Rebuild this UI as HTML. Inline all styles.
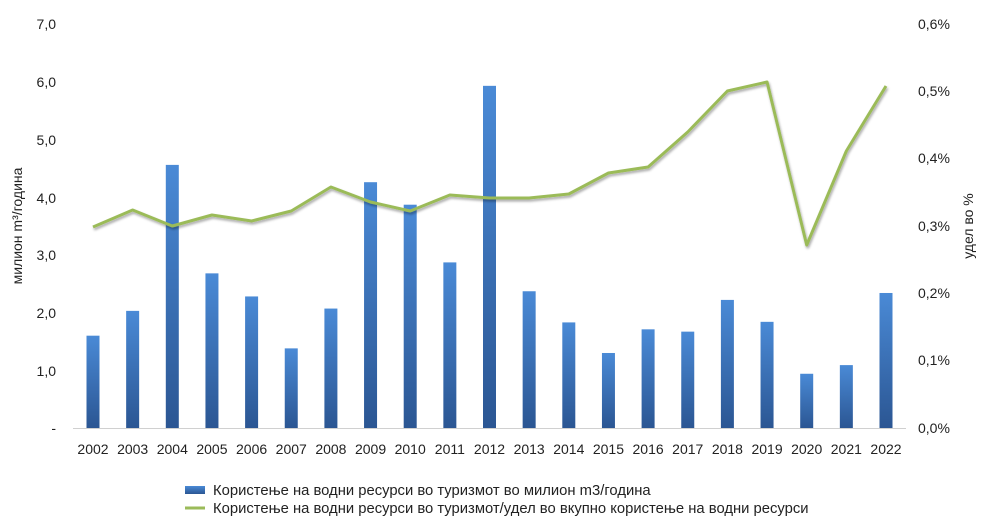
<!DOCTYPE html>
<html><head><meta charset="utf-8"><style>
body{margin:0;background:#fff;}
svg text{font-family:"Liberation Sans",sans-serif;font-size:14px;fill:#222;}
svg text.lg{font-size:14.8px;}
</style></head><body>
<svg width="990" height="525" xmlns="http://www.w3.org/2000/svg">
<defs>
<linearGradient id="g" x1="0" y1="0" x2="0" y2="1">
<stop offset="0" stop-color="#4a8ad6"/><stop offset="1" stop-color="#2b5693"/>
</linearGradient>
<filter id="sh" x="-5%" y="-5%" width="110%" height="120%"><feDropShadow dx="1" dy="2" stdDeviation="1.2" flood-color="#000" flood-opacity="0.35"/></filter>
</defs>
<line x1="73" y1="428.5" x2="906" y2="428.5" stroke="#d0d0d0"/>
<g text-anchor="end">
<text x="56" y="29">7,0</text><text x="56" y="87">6,0</text><text x="56" y="145">5,0</text><text x="56" y="203">4,0</text><text x="56" y="260">3,0</text><text x="56" y="318">2,0</text><text x="56" y="376">1,0</text><text x="56" y="433">-</text>
</g>
<g text-anchor="start">
<text x="918" y="29">0,6%</text><text x="918" y="96">0,5%</text><text x="918" y="163">0,4%</text><text x="918" y="231">0,3%</text><text x="918" y="298">0,2%</text><text x="918" y="365">0,1%</text><text x="918" y="433">0,0%</text>
</g>
<text transform="translate(22,226) rotate(-90)" text-anchor="middle">милион m³/година</text>
<text transform="translate(973,226) rotate(-90)" text-anchor="middle">удел во %</text>
<g fill="url(#g)" id="bars"></g>
<g text-anchor="middle" id="xl"></g>
<polyline id="ln" fill="none" stroke="#9bbb59" stroke-width="3" stroke-linejoin="round" filter="url(#sh)"/>
<rect x="185" y="486" width="20" height="8" fill="url(#g)"/>
<text class="lg" x="213" y="495">Користење на водни ресурси во туризмот во милион m3/година</text>
<line x1="185" y1="508" x2="205" y2="508" stroke="#9bbb59" stroke-width="3"/>
<text class="lg" x="213" y="513">Користење на водни ресурси во туризмот/удел во вкупно користење на водни ресурси</text>
</svg>
<script>
var v=[1.6,2.03,4.56,2.68,2.28,1.38,2.07,4.26,3.87,2.87,5.93,2.37,1.83,1.3,1.71,1.67,2.22,1.84,0.94,1.09,2.34];
var l=[227,210,226,215,221,211,187,202,211,195,198,198,194,173,167,132,91,82,245,151,86];
var b=document.getElementById('bars'),x=document.getElementById('xl'),ns="http://www.w3.org/2000/svg",pts=[];
for(var i=0;i<21;i++){var cx=93+i*39.65,h=v[i]*57.7;
var r=document.createElementNS(ns,'rect');r.setAttribute('x',cx-6.5);r.setAttribute('y',428-h);r.setAttribute('width',13);r.setAttribute('height',h);b.appendChild(r);
var t=document.createElementNS(ns,'text');t.setAttribute('x',cx);t.setAttribute('y',454);t.textContent=2002+i;x.appendChild(t);
pts.push(cx+','+l[i]);}
document.getElementById('ln').setAttribute('points',pts.join(' '));
</script>
</body></html>
